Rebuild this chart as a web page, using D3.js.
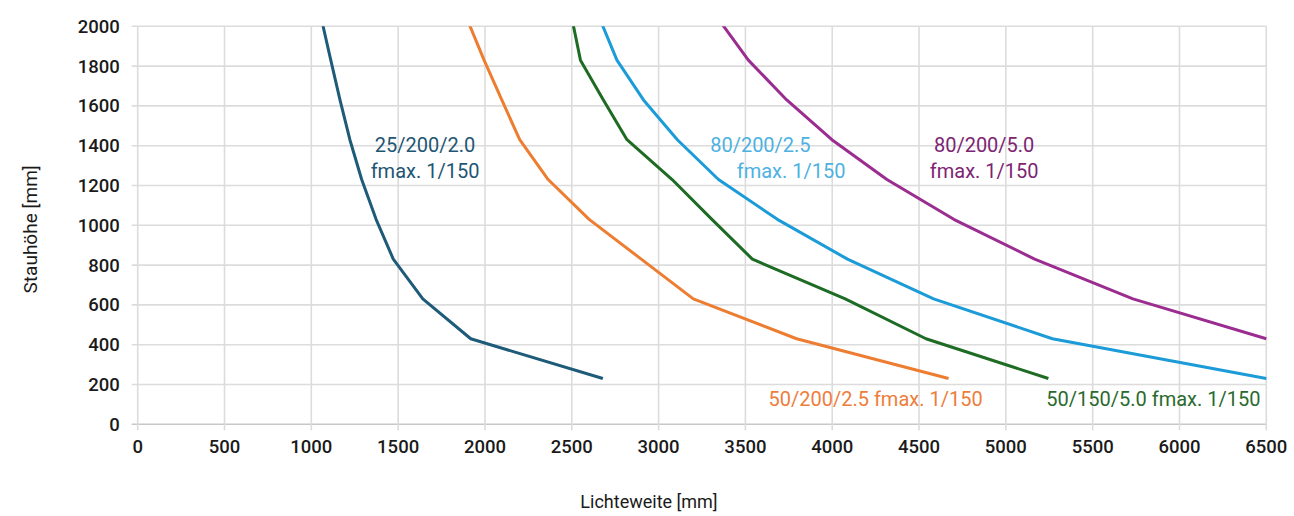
<!DOCTYPE html>
<html>
<head>
<meta charset="utf-8">
<script src="https://cdn.jsdelivr.net/npm/d3@7/dist/d3.min.js"></script>
<style>
  body { margin: 0; background: #fff; }
  svg text { font-family: Roboto, "Noto Sans", sans-serif; }
</style>
</head>
<body>
<div id="chart"></div>
<script>
// Stauhöhe values (y) shared by every curve
const heights = [2030, 1830, 1630, 1430, 1230, 1030, 830, 630, 430, 230];

// Lichteweite per curve (x)
const span25_200_20 = [1060, 1112, 1165, 1222, 1290, 1373, 1472, 1642, 1918, 2679];
const span50_200_25 = [1900, 1995, 2097, 2200, 2364, 2600, 2900, 3200, 3795, 4670];
const span50_150_50 = [2503, 2550, 2682, 2818, 3078, 3307, 3540, 4075, 4540, 5245];
const span80_200_25 = [2665, 2760, 2913, 3108, 3345, 3684, 4088, 4584, 5268, 6500];
const span80_200_50 = [3350, 3517, 3738, 3998, 4315, 4700, 5166, 5732, 6500];

const xTicks = d3.range(0, 6501, 500);
const yTicks = d3.range(0, 2001, 200);

const series = [
  { name: '25/200/2.0', xs: span25_200_20, color: '#1d5b79' },
  { name: '50/200/2.5', xs: span50_200_25, color: '#ed7d31' },
  { name: '50/150/5.0', xs: span50_150_50, color: '#1e6b24' },
  { name: '80/200/2.5', xs: span80_200_25, color: '#1b9bd7' },
  { name: '80/200/5.0', xs: span80_200_50, color: '#9b2d91' }
];

// curve labels (text lines + anchor in data units)
const labels = [
  { lines: ['25/200/2.0', 'fmax. 1/150'], x: 1655, y: 1370, anchor: 'middle', color: '#1f5673' },
  { lines: ['80/200/2.5'], x: 3297, y: 1370, anchor: 'start', color: '#4db1e1' },
  { lines: ['fmax. 1/150'], x: 3450, y: 1240, anchor: 'start', color: '#4db1e1' },
  { lines: ['80/200/5.0', 'fmax. 1/150'], x: 4875, y: 1370, anchor: 'middle', color: '#7d2472' },
  { lines: ['50/200/2.5 fmax. 1/150'], x: 3633, y: 90, anchor: 'start', color: '#ee7d3b' },
  { lines: ['50/150/5.0 fmax. 1/150'], x: 5233, y: 90, anchor: 'start', color: '#2a6a2e' }
];

const width = 1294, height = 516;
const margin = { top: 26.3, right: 27.7, bottom: 91.7, left: 137.7 };
const innerW = width - margin.left - margin.right;
const innerH = height - margin.top - margin.bottom;

const svg = d3.select('#chart').append('svg')
  .attr('width', width)
  .attr('height', height);

const g = svg.append('g').attr('transform', `translate(${margin.left},${margin.top})`);

const x = d3.scaleLinear().domain([0, 6500]).range([0, innerW]);
const y = d3.scaleLinear().domain([0, 2000]).range([innerH, 0]);

// horizontal grid (extends a bit left as tick)
g.append('g')
  .selectAll('line')
  .data(yTicks)
  .enter()
  .append('line')
  .attr('x1', -6)
  .attr('x2', innerW)
  .attr('y1', d => y(d))
  .attr('y2', d => y(d))
  .attr('stroke', d => d === 0 ? '#c8c8c8' : '#dcdcdc')
  .attr('stroke-width', 1.6);

// vertical grid (extends a bit below the axis)
g.append('g')
  .selectAll('line')
  .data(xTicks)
  .enter()
  .append('line')
  .attr('x1', d => x(d))
  .attr('x2', d => x(d))
  .attr('y1', 0)
  .attr('y2', d => innerH + 6)
  .attr('stroke', '#dcdcdc')
  .attr('stroke-width', 1.6);

// tick labels
g.append('g')
  .selectAll('text')
  .data(yTicks)
  .enter()
  .append('text')
  .attr('x', -18)
  .attr('y', d => y(d))
  .attr('dy', '0.35em')
  .attr('text-anchor', 'end')
  .attr('font-size', 18.5)
  .attr('font-weight', 500)
  .attr('fill', '#1a1a1a')
  .text(d => d);

g.append('g')
  .selectAll('text')
  .data(xTicks)
  .enter()
  .append('text')
  .attr('x', d => x(d))
  .attr('y', innerH + 29)
  .attr('text-anchor', 'middle')
  .attr('font-size', 18.5)
  .attr('font-weight', 500)
  .attr('fill', '#1a1a1a')
  .text(d => d);

// axis titles
svg.append('text')
  .attr('transform', `translate(37,${margin.top + innerH / 2 + 4}) rotate(-90)`)
  .attr('text-anchor', 'middle')
  .attr('font-size', 19)
  .attr('fill', '#1a1a1a')
  .text('Stauhöhe [mm]');

svg.append('text')
  .attr('x', 649)
  .attr('y', 508)
  .attr('text-anchor', 'middle')
  .attr('font-size', 18)
  .attr('fill', '#1a1a1a')
  .text('Lichteweite [mm]');

// clip lines to plot area
svg.append('defs').append('clipPath').attr('id', 'plot-clip')
  .append('rect')
  .attr('x', 0).attr('y', 0)
  .attr('width', innerW + 2).attr('height', innerH);

const line = d3.line()
  .x(d => x(d[0]))
  .y(d => y(d[1]));

g.append('g')
  .attr('clip-path', 'url(#plot-clip)')
  .selectAll('path')
  .data(series)
  .enter()
  .append('path')
  .attr('d', s => line(s.xs.map((v, i) => [v, heights[i]])))
  .attr('fill', 'none')
  .attr('stroke', s => s.color)
  .attr('stroke-width', 3)
  .attr('stroke-linejoin', 'round');

// curve labels
labels.forEach(l => {
  const t = g.append('text')
    .attr('x', x(l.x))
    .attr('y', y(l.y))
    .attr('text-anchor', l.anchor)
    .attr('font-size', 20)
    .attr('fill', l.color);
  l.lines.forEach((line, i) => {
    t.append('tspan')
      .attr('x', x(l.x))
      .attr('dy', i === 0 ? 0 : 26.5)
      .text(line);
  });
});
</script>
</body>
</html>
